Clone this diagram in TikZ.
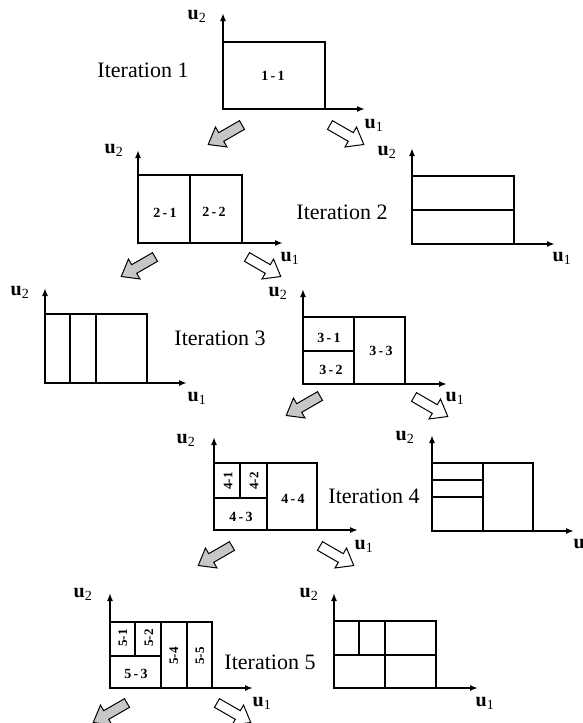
\documentclass[tikz,border=0pt]{standalone}
\usepackage{fontspec}
\setmainfont{Liberation Serif}
\usetikzlibrary{arrows.meta}
\tikzset{
  axis/.style={line width=2.4pt,-{Latex[length=8pt,width=6pt]}},
  cell/.style={line width=1.5pt},
  itlabel/.style={inner sep=0pt,font=\fontsize{22}{24}\selectfont},
  ulabel/.style={inner sep=0pt,font=\fontsize{20}{22}\selectfont},
  clabel/.style={inner sep=0pt,font=\fontsize{14}{16}\selectfont\bfseries},
  rlabel/.style={inner sep=0pt,rotate=90,font=\fontsize{13}{15}\selectfont\bfseries},
  grayarr/.style={draw=black,line width=1pt,fill=black!22,line join=miter},
  whitearr/.style={draw=black,line width=1pt,fill=white,line join=miter}
}
\newcommand{\fatarrow}[3]{%
  \begin{scope}[shift={#1},rotate=#2]
    \path[#3] (0,-5) -- (24,-5) -- (24,-11.5) -- (39,0) -- (24,11.5) -- (24,5) -- (0,5) -- cycle;
  \end{scope}}
\begin{document}
\begin{tikzpicture}[x=1pt,y=-1pt]
\useasboundingbox (0,0) rectangle (583,723);
% ---------- Panel 1 ----------
\coordinate (o1) at (223,109);
\coordinate (t1) at (223,13);
\coordinate (r1) at (365,109);
\draw[cell] (223,109) rectangle (325,42);
\draw[axis] (o1) -- (t1);
\draw[axis] (o1) -- (r1);
\node[clabel] (l11) at (273,76) {1\,-\,1};
\node[ulabel] (u21) at (197,16) {\textbf{u}\textsubscript{2}};
\node[ulabel] (u11) at (374,125) {\textbf{u}\textsubscript{1}};
\node[itlabel] (it1) at (143,70) {Iteration 1};
\fatarrow{(242,125)}{210}{grayarr}
\fatarrow{(330,125)}{-30}{whitearr}
% ---------- Panel 2 left ----------
\coordinate (o2a) at (138,243);
\coordinate (t2a) at (138,150);
\coordinate (r2a) at (283,243);
\draw[cell] (138,243) rectangle (242,175);
\draw[cell] (190,175) -- (190,243);
\draw[axis] (o2a) -- (t2a);
\draw[axis] (o2a) -- (r2a);
\node[clabel] (l21) at (165,213) {2\,-\,1};
\node[clabel] (l22) at (214,212) {2\,-\,2};
\node[ulabel] (u22a) at (114,150) {\textbf{u}\textsubscript{2}};
\node[ulabel] (u12a) at (290,258) {\textbf{u}\textsubscript{1}};
\fatarrow{(155,257)}{210}{grayarr}
\fatarrow{(247,257)}{-30}{whitearr}
% ---------- Panel 2 right ----------
\coordinate (o2b) at (412,244);
\coordinate (t2b) at (412,148);
\coordinate (r2b) at (555,244);
\draw[cell] (412,244) rectangle (514,176);
\draw[cell] (412,210) -- (514,210);
\draw[axis] (o2b) -- (t2b);
\draw[axis] (o2b) -- (r2b);
\node[ulabel] (u22b) at (387,152) {\textbf{u}\textsubscript{2}};
\node[ulabel] (u12b) at (562,258) {\textbf{u}\textsubscript{1}};
\node[itlabel] (it2) at (342,212) {Iteration 2};
% ---------- Panel 3 left ----------
\coordinate (o3a) at (45,383);
\coordinate (t3a) at (45,288);
\coordinate (r3a) at (187,383);
\draw[cell] (45,383) rectangle (147,314);
\draw[cell] (70,314) -- (70,383);
\draw[cell] (96,314) -- (96,383);
\draw[axis] (o3a) -- (t3a);
\draw[axis] (o3a) -- (r3a);
\node[ulabel] (u23a) at (20,292) {\textbf{u}\textsubscript{2}};
\node[ulabel] (u13a) at (197,398) {\textbf{u}\textsubscript{1}};
\node[itlabel] (it3) at (220,338) {Iteration 3};
% ---------- Panel 3 right ----------
\coordinate (o3b) at (303,384);
\coordinate (t3b) at (303,289);
\coordinate (r3b) at (447,384);
\draw[cell] (303,384) rectangle (405,317);
\draw[cell] (354,317) -- (354,384);
\draw[cell] (303,351) -- (354,351);
\draw[axis] (o3b) -- (t3b);
\draw[axis] (o3b) -- (r3b);
\node[clabel] (l31) at (329,338) {3\,-\,1};
\node[clabel] (l32) at (331,370) {3\,-\,2};
\node[clabel] (l33) at (381,351) {3\,-\,3};
\node[ulabel] (u23b) at (278,293) {\textbf{u}\textsubscript{2}};
\node[ulabel] (u13b) at (455,398) {\textbf{u}\textsubscript{1}};
\fatarrow{(320,396)}{210}{grayarr}
\fatarrow{(414,397)}{-30}{whitearr}
% ---------- Panel 4 left ----------
\coordinate (o4a) at (214,530);
\coordinate (t4a) at (214,437);
\coordinate (r4a) at (358,530);
\draw[cell] (214,530) rectangle (317,463);
\draw[cell] (267,463) -- (267,530);
\draw[cell] (214,498) -- (267,498);
\draw[cell] (240,463) -- (240,498);
\draw[axis] (o4a) -- (t4a);
\draw[axis] (o4a) -- (r4a);
\node[rlabel] (l41) at (228,481) {4-1};
\node[rlabel] (l42) at (254,481) {4-2};
\node[clabel] (l43) at (241,517) {4\,-\,3};
\node[clabel] (l44) at (293,499) {4\,-\,4};
\node[ulabel] (u24a) at (186,440) {\textbf{u}\textsubscript{2}};
\node[ulabel] (u14a) at (364,546) {\textbf{u}\textsubscript{1}};
\fatarrow{(232,546)}{210}{grayarr}
\fatarrow{(320,546)}{-30}{whitearr}
% ---------- Panel 4 right ----------
\coordinate (o4b) at (432,531);
\coordinate (t4b) at (432,435);
\coordinate (r4b) at (574,531);
\draw[cell] (432,531) rectangle (533,463);
\draw[cell] (483,463) -- (483,531);
\draw[cell] (432,480) -- (483,480);
\draw[cell] (432,497) -- (483,497);
\draw[axis] (o4b) -- (t4b);
\draw[axis] (o4b) -- (r4b);
\node[ulabel] (u24b) at (405,437) {\textbf{u}\textsubscript{2}};
\node[ulabel] (u14b) at (583,545) {\textbf{u}\textsubscript{1}};
\node[itlabel] (it4) at (374,496) {Iteration 4};
% ---------- Panel 5 left ----------
\coordinate (o5a) at (110,688);
\coordinate (t5a) at (110,593);
\coordinate (r5a) at (253,688);
\draw[cell] (110,688) rectangle (212,622);
\draw[cell] (135,622) -- (135,656);
\draw[cell] (161,622) -- (161,688);
\draw[cell] (187,622) -- (187,688);
\draw[cell] (110,656) -- (161,656);
\draw[axis] (o5a) -- (t5a);
\draw[axis] (o5a) -- (r5a);
\node[rlabel] (l51) at (123,638) {5-1};
\node[rlabel] (l52) at (149,638) {5-2};
\node[clabel] (l53) at (136,674) {5\,-\,3};
\node[rlabel] (l54) at (174,656) {5-4};
\node[rlabel] (l55) at (200,656) {5-5};
\node[ulabel] (u25a) at (83,594) {\textbf{u}\textsubscript{2}};
\node[ulabel] (u15a) at (262,703) {\textbf{u}\textsubscript{1}};
\node[itlabel] (it5) at (270,662) {Iteration 5};
\fatarrow{(127,703)}{210}{grayarr}
\fatarrow{(217,703)}{-30}{whitearr}
% ---------- Panel 5 right ----------
\coordinate (o5b) at (334,688);
\coordinate (t5b) at (334,593);
\coordinate (r5b) at (478,688);
\draw[cell] (334,688) rectangle (436,621);
\draw[cell] (334,655) -- (436,655);
\draw[cell] (359,621) -- (359,655);
\draw[cell] (385,621) -- (385,688);
\draw[axis] (o5b) -- (t5b);
\draw[axis] (o5b) -- (r5b);
\node[ulabel] (u25b) at (309,594) {\textbf{u}\textsubscript{2}};
\node[ulabel] (u15b) at (485,703) {\textbf{u}\textsubscript{1}};
\end{tikzpicture}
\end{document}
